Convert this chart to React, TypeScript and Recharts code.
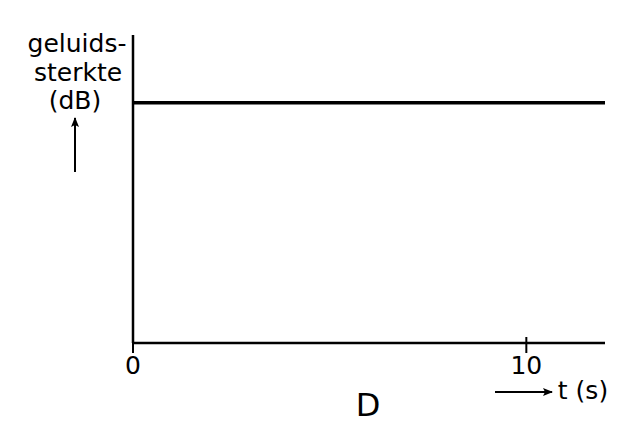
import { LineChart, Line, XAxis, YAxis } from 'recharts';

const times = [0, 12];
const levels = [78, 78];
const xTicks = [0, 10];

const data = times.map((t, i) => ({ t, level: levels[i] }));

const FONT = '"DejaVu Sans", sans-serif';

function CrossTick(props: any) {
  const { x, y, payload } = props;
  return (
    <g>
      <line x1={x} x2={x} y1={y - 8} y2={y + 8} stroke="#000" strokeWidth={2} />
      <text x={x} y={y + 29} textAnchor="middle" style={{ fontFamily: FONT, fontSize: 25 }} fill="#000">
        {payload.value}
      </text>
    </g>
  );
}

export default function App() {
  return (
    <div style={{ position: 'absolute', left: 0, top: 0, width: 633, height: 448, background: '#fff' }}>
      <LineChart width={633} height={448} data={data} margin={{ top: 35, right: 28, bottom: 0, left: 0 }}>
        <XAxis
          dataKey="t"
          type="number"
          domain={[0, 12]}
          ticks={xTicks}
          tickLine={false}
          tickSize={0}
          axisLine={{ stroke: '#000', strokeWidth: 2.5 }}
          tick={<CrossTick />}
          height={105}
        />
        <YAxis
          type="number"
          domain={[0, 100]}
          width={133}
          tick={false}
          tickLine={false}
          axisLine={{ stroke: '#000', strokeWidth: 2.5 }}
        />
        <Line
          dataKey="level"
          type="linear"
          stroke="#000"
          strokeWidth={3.5}
          dot={false}
          isAnimationActive={false}
        />
      </LineChart>
      <svg width={633} height={448} style={{ position: 'absolute', left: 0, top: 0, pointerEvents: 'none' }}>
        <defs>
          <marker id="ah" viewBox="0 0 10 10" refX="9" refY="5" markerWidth="6" markerHeight="5" orient="auto">
            <path d="M0,1 L10,5 L0,9 L2,5 z" fill="#000" />
          </marker>
        </defs>
        <g style={{ fontFamily: FONT, fontSize: 25 }} fill="#000" textAnchor="middle">
          <text x={77} y={52}>geluids-</text>
          <text x={78} y={81}>sterkte</text>
          <text x={75} y={109}>(dB)</text>
          <text x={368} y={416} style={{ fontSize: 32 }}>D</text>
          <text x={583} y={399}>t (s)</text>
        </g>
        <line x1={75} y1={172} x2={75} y2={118} stroke="#000" strokeWidth={2} markerEnd="url(#ah)" />
        <line x1={495} y1={392} x2={552} y2={392} stroke="#000" strokeWidth={2} markerEnd="url(#ah)" />
      </svg>
    </div>
  );
}
